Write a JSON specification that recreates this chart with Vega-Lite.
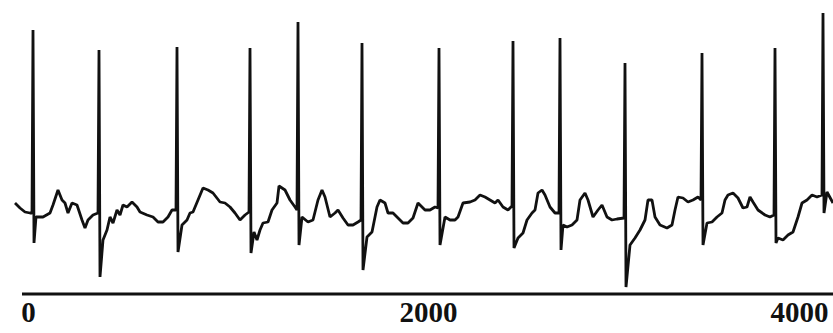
{
  "$schema": "https://vega.github.io/schema/vega-lite/v6.json",
  "width": 833,
  "height": 294,
  "padding": {"left": 0, "top": 0, "right": 0, "bottom": 39},
  "autosize": {"type": "none"},
  "background": "white",
  "config": {"view": {"stroke": null}},
  "datasets": {
    "ecg": [
      {"t":-65,"v":0.17},{"t":-40,"v":0.12},{"t":-15,"v":0.08},{"t":10,"v":0.07},{"t":20,"v":0.07},{"t":25,"v":1.90},{"t":30,"v":-0.23},{"t":40,"v":0.03},{"t":75,"v":0.03},{"t":110,"v":0.07},{"t":125,"v":0.15},{"t":150,"v":0.30},{"t":170,"v":0.20},{"t":185,"v":0.17},{"t":200,"v":0.07},{"t":220,"v":0.17},{"t":245,"v":0.15},{"t":270,"v":0.00},{"t":285,"v":-0.08},{"t":300,"v":0.00},{"t":325,"v":0.05},{"t":350,"v":0.07},
      {"t":355,"v":1.70},{"t":360,"v":-0.57},{"t":375,"v":-0.20},{"t":395,"v":-0.10},{"t":410,"v":0.03},{"t":425,"v":-0.03},{"t":445,"v":0.10},{"t":460,"v":0.05},{"t":475,"v":0.15},{"t":495,"v":0.13},{"t":520,"v":0.18},{"t":545,"v":0.13},{"t":560,"v":0.08},{"t":595,"v":0.05},{"t":625,"v":0.03},{"t":650,"v":-0.02},{"t":675,"v":-0.02},{"t":700,"v":0.03},{"t":720,"v":0.10},{"t":740,"v":0.10},
      {"t":745,"v":1.73},{"t":750,"v":-0.32},{"t":770,"v":-0.05},{"t":795,"v":0.00},{"t":810,"v":0.07},{"t":825,"v":0.08},{"t":850,"v":0.20},{"t":875,"v":0.32},{"t":900,"v":0.30},{"t":925,"v":0.27},{"t":960,"v":0.18},{"t":985,"v":0.17},{"t":1010,"v":0.13},{"t":1035,"v":0.07},{"t":1060,"v":0.00},{"t":1085,"v":0.05},{"t":1105,"v":0.08},
      {"t":1110,"v":1.72},{"t":1115,"v":-0.33},{"t":1130,"v":-0.12},{"t":1145,"v":-0.20},{"t":1160,"v":-0.10},{"t":1175,"v":-0.03},{"t":1200,"v":-0.02},{"t":1220,"v":0.10},{"t":1245,"v":0.17},{"t":1255,"v":0.34},{"t":1285,"v":0.30},{"t":1310,"v":0.20},{"t":1335,"v":0.13},{"t":1345,"v":0.10},
      {"t":1350,"v":1.98},{"t":1355,"v":-0.25},{"t":1370,"v":0.03},{"t":1400,"v":-0.02},{"t":1425,"v":0.00},{"t":1450,"v":0.20},{"t":1470,"v":0.30},{"t":1485,"v":0.23},{"t":1510,"v":0.03},{"t":1535,"v":0.07},{"t":1550,"v":0.10},{"t":1575,"v":0.02},{"t":1600,"v":-0.05},{"t":1625,"v":-0.05},{"t":1650,"v":-0.02},{"t":1665,"v":0.00},
      {"t":1670,"v":1.77},{"t":1675,"v":-0.50},{"t":1695,"v":-0.17},{"t":1720,"v":-0.12},{"t":1745,"v":0.13},{"t":1760,"v":0.20},{"t":1785,"v":0.17},{"t":1800,"v":0.07},{"t":1825,"v":0.07},{"t":1850,"v":0.02},{"t":1875,"v":-0.03},{"t":1900,"v":-0.03},{"t":1925,"v":0.02},{"t":1950,"v":0.17},{"t":1960,"v":0.15},{"t":1985,"v":0.10},{"t":2010,"v":0.10},{"t":2035,"v":0.13},{"t":2050,"v":0.12},
      {"t":2055,"v":1.72},{"t":2060,"v":-0.25},{"t":2085,"v":0.03},{"t":2110,"v":0.00},{"t":2135,"v":0.00},{"t":2150,"v":0.03},{"t":2175,"v":0.17},{"t":2210,"v":0.18},{"t":2235,"v":0.20},{"t":2260,"v":0.25},{"t":2285,"v":0.23},{"t":2310,"v":0.20},{"t":2335,"v":0.17},{"t":2350,"v":0.20},{"t":2375,"v":0.13},{"t":2400,"v":0.10},{"t":2420,"v":0.14},
      {"t":2425,"v":1.79},{"t":2430,"v":-0.28},{"t":2450,"v":-0.18},{"t":2475,"v":-0.13},{"t":2495,"v":0.00},{"t":2520,"v":0.07},{"t":2535,"v":0.10},{"t":2550,"v":0.27},{"t":2570,"v":0.30},{"t":2585,"v":0.25},{"t":2610,"v":0.13},{"t":2635,"v":0.07},{"t":2655,"v":0.07},
      {"t":2660,"v":1.82},{"t":2665,"v":-0.30},{"t":2675,"v":-0.05},{"t":2695,"v":-0.07},{"t":2720,"v":-0.05},{"t":2745,"v":0.00},{"t":2760,"v":0.20},{"t":2785,"v":0.27},{"t":2800,"v":0.20},{"t":2825,"v":0.03},{"t":2850,"v":0.10},{"t":2870,"v":0.15},{"t":2895,"v":0.03},{"t":2920,"v":0.00},{"t":2945,"v":0.01},{"t":2980,"v":0.02},
      {"t":2985,"v":1.57},{"t":2990,"v":-0.67},{"t":3010,"v":-0.25},{"t":3035,"v":-0.18},{"t":3060,"v":-0.10},{"t":3085,"v":0.00},{"t":3100,"v":0.20},{"t":3120,"v":0.20},{"t":3135,"v":0.03},{"t":3160,"v":-0.05},{"t":3195,"v":-0.08},{"t":3220,"v":-0.05},{"t":3235,"v":0.10},{"t":3250,"v":0.23},{"t":3275,"v":0.22},{"t":3300,"v":0.18},{"t":3325,"v":0.20},{"t":3350,"v":0.23},{"t":3365,"v":0.20},
      {"t":3370,"v":1.67},{"t":3375,"v":-0.25},{"t":3395,"v":-0.03},{"t":3420,"v":-0.02},{"t":3445,"v":0.03},{"t":3470,"v":0.07},{"t":3485,"v":0.20},{"t":3500,"v":0.25},{"t":3525,"v":0.27},{"t":3550,"v":0.22},{"t":3575,"v":0.12},{"t":3595,"v":0.13},{"t":3610,"v":0.23},{"t":3625,"v":0.18},{"t":3650,"v":0.10},{"t":3685,"v":0.05},{"t":3710,"v":0.03},{"t":3730,"v":0.05},
      {"t":3735,"v":1.72},{"t":3740,"v":-0.23},{"t":3750,"v":-0.18},{"t":3775,"v":-0.20},{"t":3800,"v":-0.15},{"t":3825,"v":-0.12},{"t":3850,"v":0.03},{"t":3870,"v":0.17},{"t":3895,"v":0.20},{"t":3920,"v":0.25},{"t":3945,"v":0.23},{"t":3970,"v":0.25},
      {"t":3975,"v":2.07},{"t":3980,"v":0.07},{"t":3995,"v":0.28},{"t":4025,"v":0.17}
    ],
    "baseline": [{"t": -30, "t_end": 4025, "v": -0.74}]
  },
  "encoding": {
    "x": {
      "field": "t", "type": "quantitative",
      "scale": {"domain": [-140, 4025], "nice": false, "zero": false},
      "axis": {
        "values": [0, 2000, 4000], "format": "d",
        "domain": false, "ticks": false, "grid": false, "title": null,
        "labelFont": "Liberation Serif", "labelFontWeight": "bold", "labelFontSize": 29,
        "labelColor": "#111111", "labelPadding": 4, "labelBaseline": "top",
        "labelFlush": 10, "labelOverlap": false
      }
    },
    "y": {
      "field": "v", "type": "quantitative",
      "scale": {"domain": [-0.74, 2.2], "nice": false, "zero": false},
      "axis": null
    }
  },
  "layer": [
    {
      "data": {"name": "ecg"},
      "mark": {"type": "line", "color": "#111111", "strokeWidth": 2.8, "strokeJoin": "bevel"}
    },
    {
      "data": {"name": "baseline"},
      "mark": {"type": "rule", "color": "#111111", "strokeWidth": 3},
      "encoding": {
        "x2": {"field": "t_end"}
      }
    }
  ]
}
